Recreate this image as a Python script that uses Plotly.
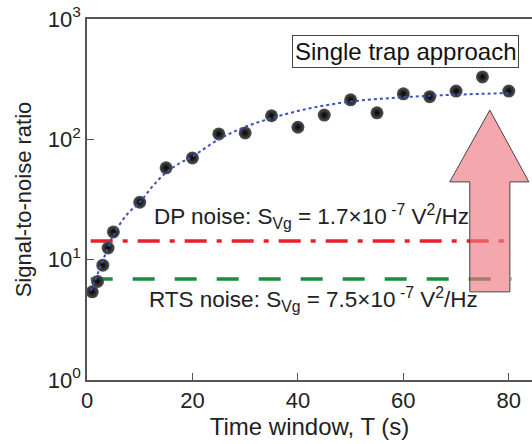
import math
import plotly.graph_objects as go

# measured data (Signal-to-noise ratio vs time window)
t_data = [1, 2, 3, 4, 5, 10, 15, 20, 25, 30, 35, 40, 45, 50, 55, 60, 65, 70, 75, 80]
snr_data = [5.4, 6.6, 9.0, 12.5, 17, 30, 58, 70, 111, 113, 157, 126, 159, 213, 166, 239, 226, 252, 330, 252]

# fitted curve
t_fit = [0.7, 1, 2, 3, 4, 5, 7.5, 10, 12.5, 15, 17.5, 20, 25, 30, 35, 40, 45, 50, 55, 60, 65, 70, 75, 80]
snr_fit = [5.5, 5.9, 7.6, 9.8, 12.6, 16, 23.5, 30, 41, 53, 63, 72, 100, 127, 150, 172, 191, 206, 216, 224, 230, 235, 239, 242]

# noise-limit levels
t_lim = [0.7, 80.5]
dp_level = [14.3, 14.3]
rts_level = [6.9, 6.9]

x_ticks = [0, 20, 40, 60, 80]
y_ticks = [1, 10, 100, 1000]
y_ticktext = ["10<sup>0</sup>", "10<sup>1</sup>", "10<sup>2</sup>", "10<sup>3</sup>"]

X_MAX = 84.4
FONT = "Liberation Sans, Arial, sans-serif"

fig = go.Figure()

fig.add_trace(go.Scatter(x=t_lim, y=dp_level, mode="lines",
                         line=dict(color="#e8202a", width=3.5, dash="22px,10px,5px,10px"),
                         hoverinfo="skip"))
fig.add_trace(go.Scatter(x=t_lim, y=rts_level, mode="lines",
                         line=dict(color="#1a8c3c", width=3.5, dash="22px,20px"),
                         hoverinfo="skip"))
fig.add_trace(go.Scatter(x=t_data, y=snr_data, mode="markers",
                         marker=dict(size=13, color="#555555",
                                     gradient=dict(type="radial", color="#000000"),
                                     line=dict(width=0))))
fig.add_trace(go.Scatter(x=t_fit, y=snr_fit, mode="lines", line_shape="spline",
                         line=dict(color="#3a4fc0", width=2, dash="3px,3px")))

# big pink arrow (in x-data / paper-y coordinates)
def yp(v):
    return math.log10(v) / 3.0

tip_x, head_l, head_r, sh_l, sh_r = 76.4, 68.8, 83.8, 72.6, 80.2
tip_y, head_y, bot_y = yp(175), yp(44.3), yp(5.4)
path = (f"M {sh_l},{bot_y} L {sh_l},{head_y} L {head_l},{head_y} L {tip_x},{tip_y} "
        f"L {head_r},{head_y} L {sh_r},{head_y} L {sh_r},{bot_y} Z")
fig.add_shape(type="path", path=path, xref="x", yref="paper",
              fillcolor="rgba(238,120,128,0.65)", line=dict(color="#444444", width=1),
              layer="above")

fig.add_annotation(x=60.4, y=2.73, xref="x", yref="y",
                   text="Single trap approach", showarrow=False,
                   font=dict(size=24, color="#111111", family=FONT),
                   bordercolor="#444444", borderwidth=1, borderpad=2, bgcolor="white")
fig.add_annotation(x=12.3, y=1.355, xref="x", yref="y", xanchor="left",
                   text="DP noise: S<sub>Vg</sub> = 1.7×10<sup> -7</sup> V<sup>2</sup>/Hz",
                   showarrow=False, font=dict(size=22.5, color="#222222", family=FONT))
fig.add_annotation(x=11.4, y=0.665, xref="x", yref="y", xanchor="left",
                   text="RTS noise: S<sub>Vg</sub> = 7.5×10<sup> -7</sup> V<sup>2</sup>/Hz",
                   showarrow=False, font=dict(size=22.5, color="#222222", family=FONT))

fig.update_layout(
    width=532, height=444,
    margin=dict(l=87, r=0, t=19, b=64),
    paper_bgcolor="white", plot_bgcolor="white",
    showlegend=False,
    font=dict(family=FONT, size=22, color="#222222"),
)
fig.update_xaxes(range=[0, X_MAX], tickvals=x_ticks, ticks="inside", ticklen=7,
                 tickcolor="#555555", showline=True, linecolor="#555555", linewidth=1.5,
                 mirror=True, showgrid=False, zeroline=False,
                 title=dict(text="Time window, T (s)", standoff=6, font=dict(size=24)))
fig.update_yaxes(type="log", range=[0, 3], tickvals=y_ticks, ticktext=y_ticktext,
                 ticks="inside", ticklen=7, tickcolor="#555555", showline=True,
                 linecolor="#555555", linewidth=1.5, showgrid=False, zeroline=False,
                 title=dict(text="Signal-to-noise ratio", standoff=10, font=dict(size=22)))

fig.write_html("out.html")
